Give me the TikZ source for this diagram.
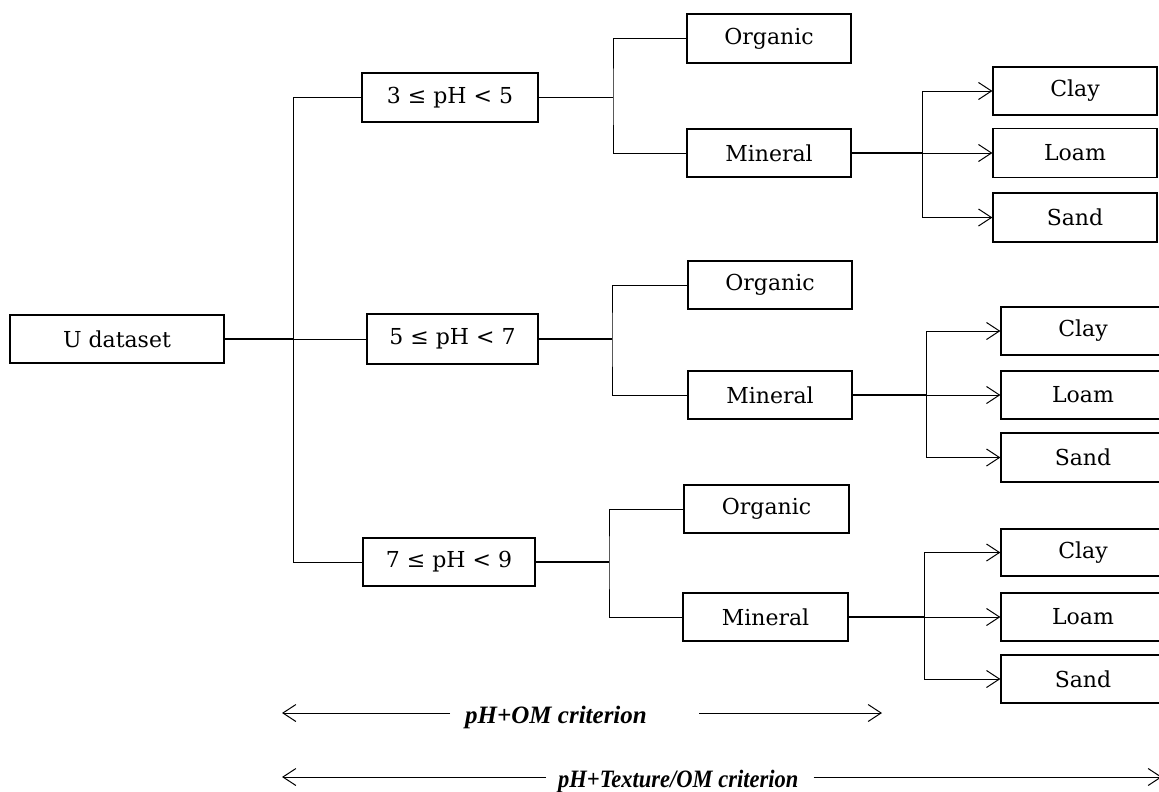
\documentclass[tikz,border=0pt]{standalone}
\usepackage{fontspec}
\setmainfont{DejaVu Serif}
\newfontfamily\critfont{Liberation Serif}
\usetikzlibrary{arrows.meta}
\begin{document}
\begin{tikzpicture}[x=1pt,y=-1pt,
  box/.style={draw,line width=1.2pt,inner sep=0pt,minimum width=164pt,
    minimum height=48pt,font=\fontsize{22}{25}\selectfont},
  link/.style={line width=1pt},
  stem/.style={line width=1.8pt},
  tip/.style={line width=1pt,-{Straight Barb[length=13pt,width=17pt,line width=1pt]}},
  crit/.style={font=\critfont\bfseries\itshape\fontsize{25}{28}\selectfont,
    inner sep=0pt,anchor=base west},
  span/.style={line width=1pt,-{Straight Barb[length=13pt,width=17pt,line width=1pt]}}
]
\useasboundingbox (0,0) rectangle (1159,792);

% root and pH classes
\node[box,minimum width=214pt] (U) at (117,339) {U dataset};
\node[box,minimum width=176pt,minimum height=49pt] (p1) at (450,97.5) {3 ≤ pH < 5};
\node[box,minimum width=171pt,minimum height=50pt] (p2) at (452.5,339) {5 ≤ pH < 7};
\node[box,minimum width=172pt] (p3) at (449,562) {7 ≤ pH < 9};

% organic / mineral
\node[box,minimum height=49pt] (o1) at (769,38.5) {Organic};
\node[box] (m1) at (769,153) {Mineral};
\node[box] (o2) at (770,285) {Organic};
\node[box] (m2) at (770,395) {Mineral};
\node[box,minimum width=165pt] (o3) at (766.5,509) {Organic};
\node[box,minimum width=165pt] (m3) at (765.5,617) {Mineral};

% texture classes
\node[box] (c1) at (1075,91) {Clay};
\node[box,minimum height=49pt] (l1) at (1075,153) {Loam};
\node[box,minimum height=49pt] (s1) at (1075,217.5) {Sand};
\node[box] (c2) at (1083,331) {Clay};
\node[box] (l2) at (1083,395) {Loam};
\node[box,minimum height=49pt] (s2) at (1083,457.5) {Sand};
\node[box,minimum height=47pt] (c3) at (1083,552.5) {Clay};
\node[box] (l3) at (1083,617) {Loam};
\node[box] (s3) at (1083,679) {Sand};

% branch points
\coordinate (tr) at (293,339);
\coordinate (b1) at (613,97.5);
\coordinate (b2) at (612,339);
\coordinate (b3) at (609,562);
\coordinate (d1) at (922,153);
\coordinate (d2) at (926,395);
\coordinate (d3) at (924,617);

% first split
\draw[stem] (U.east) -- (tr);
\draw[link] (p1.west) -| (p3.west -| tr) -- (p3.west);
\draw[link] (tr) -- (p2.west);

% second split
\draw[stem] (p1.east) -- (b1);
\draw[link] (o1.west) -| (b1) |- (m1.west);
\draw[stem] (p2.east) -- (b2);
\draw[link] (o2.west) -| (b2) |- (m2.west);
\draw[stem] (p3.east) -- (b3);
\draw[link] (o3.west) -| (b3) |- (m3.west);

% texture split
\draw[stem] (m1.east) -- (d1);
\draw[tip] (d1) |- (c1.west);
\draw[tip] (d1) -- (l1.west);
\draw[tip] (d1) |- (s1.west);
\draw[stem] (m2.east) -- (d2);
\draw[tip] (d2) |- (c2.west);
\draw[tip] (d2) -- (l2.west);
\draw[tip] (d2) |- (s2.west);
\draw[stem] (m3.east) -- (d3);
\draw[tip] (d3) |- (c3.west);
\draw[tip] (d3) -- (l3.west);
\draw[tip] (d3) |- (s3.west);

% criterion spans
\node[crit] (k1) at (465,723) {pH+OM criterion};
\node[crit] (k2) at (558,787) {\scalebox{0.9}[1]{pH+Texture/OM criterion}};
\coordinate (k1l) at (282,713);
\coordinate (k1r) at (882,713);
\coordinate (k2l) at (282,777);
\coordinate (k2r) at (1162,777);
\draw[span] ([xshift=-15pt]k1.west |- k1l) -- (k1l);
\draw[span] ([xshift=52pt]k1.east |- k1r) -- (k1r);
\draw[span] ([xshift=-12pt]k2.west |- k2l) -- (k2l);
\draw[span] ([xshift=15pt]k2.east |- k2r) -- (k2r);
\end{tikzpicture}
\end{document}
